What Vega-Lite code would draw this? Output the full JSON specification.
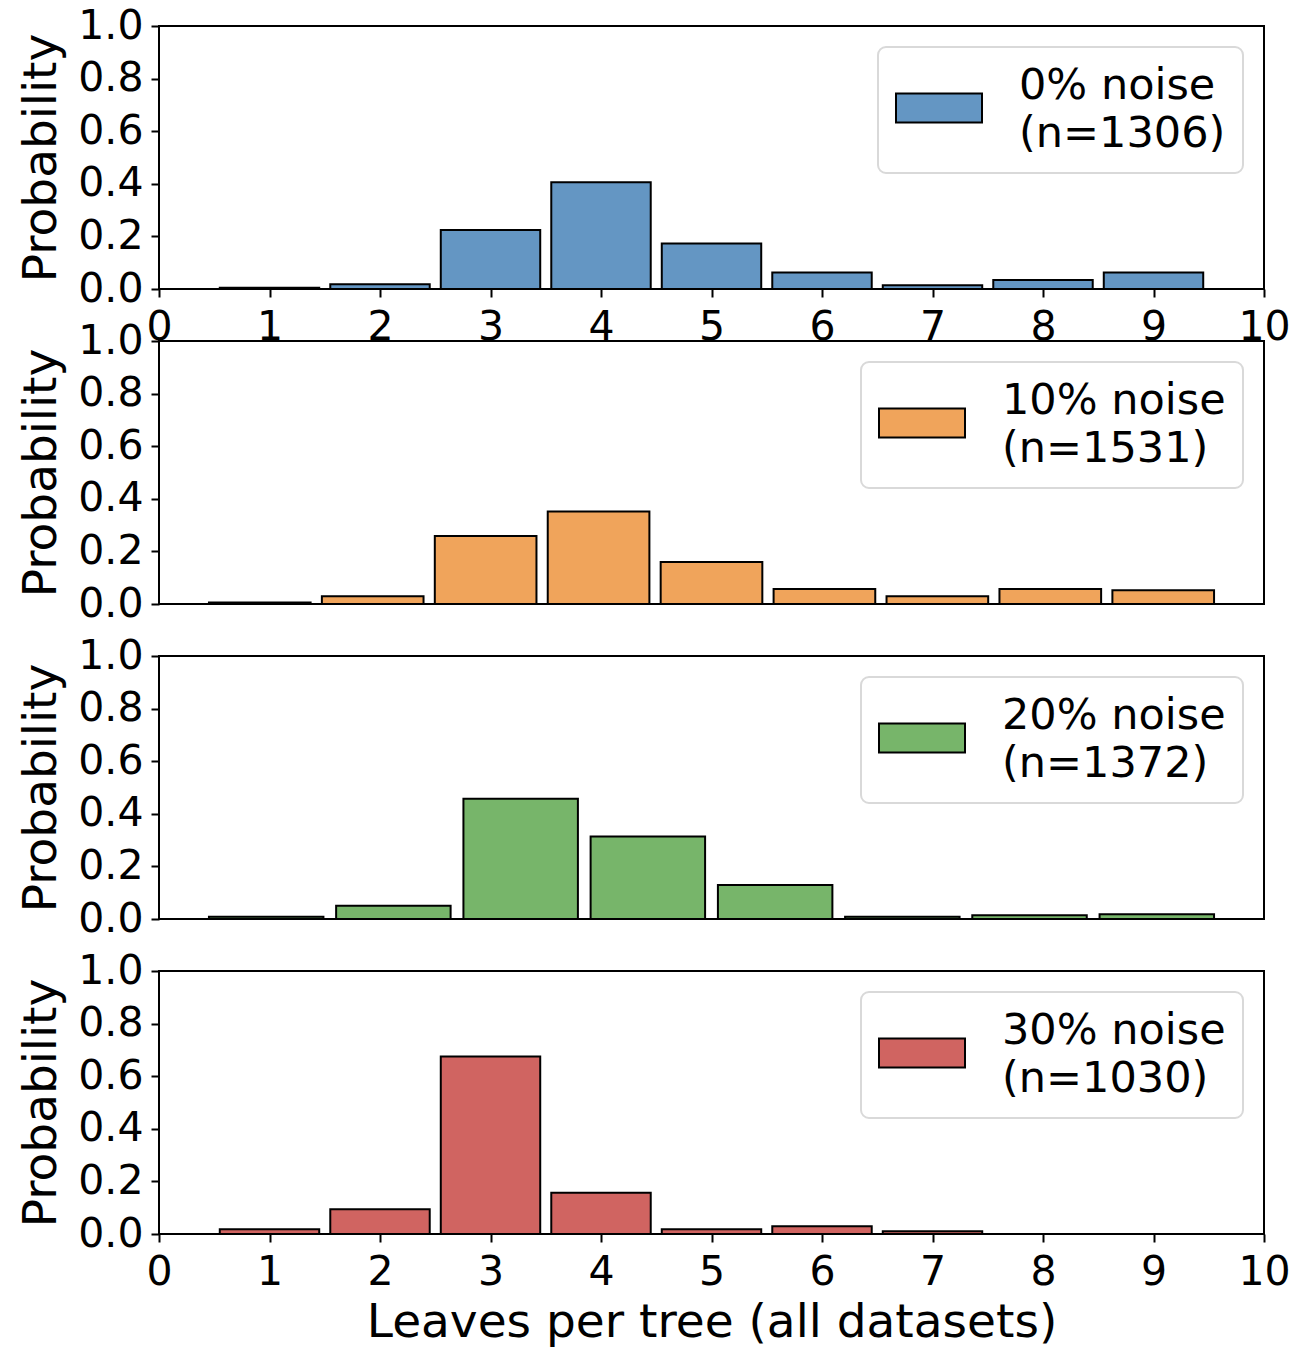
{
  "$schema": "https://vega.github.io/schema/vega-lite/v6.json",
  "background": "white",
  "padding": {"left": 16, "top": 4, "right": 6, "bottom": 1},
  "bounds": "flush",
  "spacing": 52,
  "datasets": {
    "bars": [
      {"panel": "A", "series": "0% noise|(n=1306)", "lo": 0.55, "hi": 1.45, "p": 0.005},
      {"panel": "A", "series": "0% noise|(n=1306)", "lo": 1.55, "hi": 2.45, "p": 0.018},
      {"panel": "A", "series": "0% noise|(n=1306)", "lo": 2.55, "hi": 3.45, "p": 0.224},
      {"panel": "A", "series": "0% noise|(n=1306)", "lo": 3.55, "hi": 4.45, "p": 0.406},
      {"panel": "A", "series": "0% noise|(n=1306)", "lo": 4.55, "hi": 5.45, "p": 0.173},
      {"panel": "A", "series": "0% noise|(n=1306)", "lo": 5.55, "hi": 6.45, "p": 0.063},
      {"panel": "A", "series": "0% noise|(n=1306)", "lo": 6.55, "hi": 7.45, "p": 0.014},
      {"panel": "A", "series": "0% noise|(n=1306)", "lo": 7.55, "hi": 8.45, "p": 0.034},
      {"panel": "A", "series": "0% noise|(n=1306)", "lo": 8.55, "hi": 9.45, "p": 0.063},
      {"panel": "B", "series": "10% noise|(n=1531)", "lo": 0.452, "hi": 1.372, "p": 0.006},
      {"panel": "B", "series": "10% noise|(n=1531)", "lo": 1.474, "hi": 2.394, "p": 0.029},
      {"panel": "B", "series": "10% noise|(n=1531)", "lo": 2.496, "hi": 3.416, "p": 0.259},
      {"panel": "B", "series": "10% noise|(n=1531)", "lo": 3.518, "hi": 4.438, "p": 0.352},
      {"panel": "B", "series": "10% noise|(n=1531)", "lo": 4.54, "hi": 5.46, "p": 0.160},
      {"panel": "B", "series": "10% noise|(n=1531)", "lo": 5.562, "hi": 6.482, "p": 0.057},
      {"panel": "B", "series": "10% noise|(n=1531)", "lo": 6.584, "hi": 7.504, "p": 0.029},
      {"panel": "B", "series": "10% noise|(n=1531)", "lo": 7.606, "hi": 8.526, "p": 0.057},
      {"panel": "B", "series": "10% noise|(n=1531)", "lo": 8.628, "hi": 9.548, "p": 0.052},
      {"panel": "C", "series": "20% noise|(n=1372)", "lo": 0.452, "hi": 1.488, "p": 0.009},
      {"panel": "C", "series": "20% noise|(n=1372)", "lo": 1.603, "hi": 2.639, "p": 0.050},
      {"panel": "C", "series": "20% noise|(n=1372)", "lo": 2.755, "hi": 3.791, "p": 0.457},
      {"panel": "C", "series": "20% noise|(n=1372)", "lo": 3.906, "hi": 4.942, "p": 0.314},
      {"panel": "C", "series": "20% noise|(n=1372)", "lo": 5.058, "hi": 6.094, "p": 0.129},
      {"panel": "C", "series": "20% noise|(n=1372)", "lo": 6.209, "hi": 7.245, "p": 0.009},
      {"panel": "C", "series": "20% noise|(n=1372)", "lo": 7.36, "hi": 8.396, "p": 0.014},
      {"panel": "C", "series": "20% noise|(n=1372)", "lo": 8.512, "hi": 9.548, "p": 0.018},
      {"panel": "D", "series": "30% noise|(n=1030)", "lo": 0.55, "hi": 1.45, "p": 0.018},
      {"panel": "D", "series": "30% noise|(n=1030)", "lo": 1.55, "hi": 2.45, "p": 0.094},
      {"panel": "D", "series": "30% noise|(n=1030)", "lo": 2.55, "hi": 3.45, "p": 0.675},
      {"panel": "D", "series": "30% noise|(n=1030)", "lo": 3.55, "hi": 4.45, "p": 0.157},
      {"panel": "D", "series": "30% noise|(n=1030)", "lo": 4.55, "hi": 5.45, "p": 0.018},
      {"panel": "D", "series": "30% noise|(n=1030)", "lo": 5.55, "hi": 6.45, "p": 0.029},
      {"panel": "D", "series": "30% noise|(n=1030)", "lo": 6.55, "hi": 7.45, "p": 0.010}
    ]
  },
  "config": {
    "font": "DejaVu Sans",
    "view": {"stroke": "black", "strokeWidth": 2},
    "style": {"guide-label": {"lineHeight": 48}},
    "axis": {
      "labelFont": "DejaVu Sans",
      "labelFontSize": 41,
      "labelColor": "black",
      "titleFont": "DejaVu Sans",
      "titleFontSize": 47,
      "titleFontWeight": "normal",
      "titleColor": "black",
      "tickColor": "black",
      "tickWidth": 2,
      "tickSize": 8,
      "domain": false,
      "grid": false,
      "labelPadding": 8
    },
    "legend": {
      "orient": "top-right",
      "offset": 21,
      "fillColor": "white",
      "strokeColor": "#d9d9d9",
      "strokeWidth": 2,
      "cornerRadius": 8,
      "padding": 17,
      "labelFont": "DejaVu Sans",
      "labelFontSize": 43,
      "labelColor": "black",
      "labelLimit": 600,
      "labelOffset": 36,
      "labelBaseline": "bottom",
      "symbolType": "M-1,-0.34L1,-0.34L1,0.34L-1,0.34Z",
      "symbolSize": 7396,
      "symbolStrokeColor": "black",
      "symbolStrokeWidth": 2,
      "symbolOpacity": 1
    }
  },
  "resolve": {"scale": {"color": "independent"}, "legend": {"color": "independent"}},
  "vconcat": [
    {
      "width": 1105, "height": 263,
      "data": {"name": "bars"},
      "transform": [{"filter": "datum.panel === 'A'"}],
      "mark": {"type": "bar", "stroke": "black", "strokeWidth": 2},
      "encoding": {
        "x": {"field": "lo", "type": "quantitative", "scale": {"domain": [0, 10], "nice": false, "zero": false},
              "axis": {"values": [0,1,2,3,4,5,6,7,8,9,10], "title": null, "labelFlush": false, "labelOverlap": false, "labelPadding": 10}},
        "x2": {"field": "hi"},
        "y": {"field": "p", "type": "quantitative", "scale": {"domain": [0, 1], "nice": false},
              "axis": {"values": [0,0.2,0.4,0.6,0.8,1.0], "format": ".1f", "title": "Probability", "titlePadding": 12}},
        "y2": {"datum": 0},
        "color": {"field": "series", "type": "nominal", "scale": {"range": ["#6496c3"]},
                  "legend": {"title": null, "labelExpr": "split(datum.label, '|')"}}
      }
    },
    {
      "width": 1105, "height": 263,
      "data": {"name": "bars"},
      "transform": [{"filter": "datum.panel === 'B'"}],
      "mark": {"type": "bar", "stroke": "black", "strokeWidth": 2},
      "encoding": {
        "x": {"field": "lo", "type": "quantitative", "scale": {"domain": [0, 10], "nice": false, "zero": false}, "axis": null},
        "x2": {"field": "hi"},
        "y": {"field": "p", "type": "quantitative", "scale": {"domain": [0, 1], "nice": false},
              "axis": {"values": [0,0.2,0.4,0.6,0.8,1.0], "format": ".1f", "title": "Probability", "titlePadding": 12}},
        "y2": {"datum": 0},
        "color": {"field": "series", "type": "nominal", "scale": {"range": ["#f0a45b"]},
                  "legend": {"title": null, "labelExpr": "split(datum.label, '|')"}}
      }
    },
    {
      "width": 1105, "height": 263,
      "data": {"name": "bars"},
      "transform": [{"filter": "datum.panel === 'C'"}],
      "mark": {"type": "bar", "stroke": "black", "strokeWidth": 2},
      "encoding": {
        "x": {"field": "lo", "type": "quantitative", "scale": {"domain": [0, 10], "nice": false, "zero": false}, "axis": null},
        "x2": {"field": "hi"},
        "y": {"field": "p", "type": "quantitative", "scale": {"domain": [0, 1], "nice": false},
              "axis": {"values": [0,0.2,0.4,0.6,0.8,1.0], "format": ".1f", "title": "Probability", "titlePadding": 12}},
        "y2": {"datum": 0},
        "color": {"field": "series", "type": "nominal", "scale": {"range": ["#77b56a"]},
                  "legend": {"title": null, "labelExpr": "split(datum.label, '|')"}}
      }
    },
    {
      "width": 1105, "height": 263,
      "data": {"name": "bars"},
      "transform": [{"filter": "datum.panel === 'D'"}],
      "mark": {"type": "bar", "stroke": "black", "strokeWidth": 2},
      "encoding": {
        "x": {"field": "lo", "type": "quantitative", "scale": {"domain": [0, 10], "nice": false, "zero": false},
              "axis": {"values": [0,1,2,3,4,5,6,7,8,9,10], "title": "Leaves per tree (all datasets)", "labelFlush": false, "labelOverlap": false, "labelPadding": 10, "titlePadding": 7}},
        "x2": {"field": "hi"},
        "y": {"field": "p", "type": "quantitative", "scale": {"domain": [0, 1], "nice": false},
              "axis": {"values": [0,0.2,0.4,0.6,0.8,1.0], "format": ".1f", "title": "Probability", "titlePadding": 12}},
        "y2": {"datum": 0},
        "color": {"field": "series", "type": "nominal", "scale": {"range": ["#d06461"]},
                  "legend": {"title": null, "labelExpr": "split(datum.label, '|')"}}
      }
    }
  ]
}
